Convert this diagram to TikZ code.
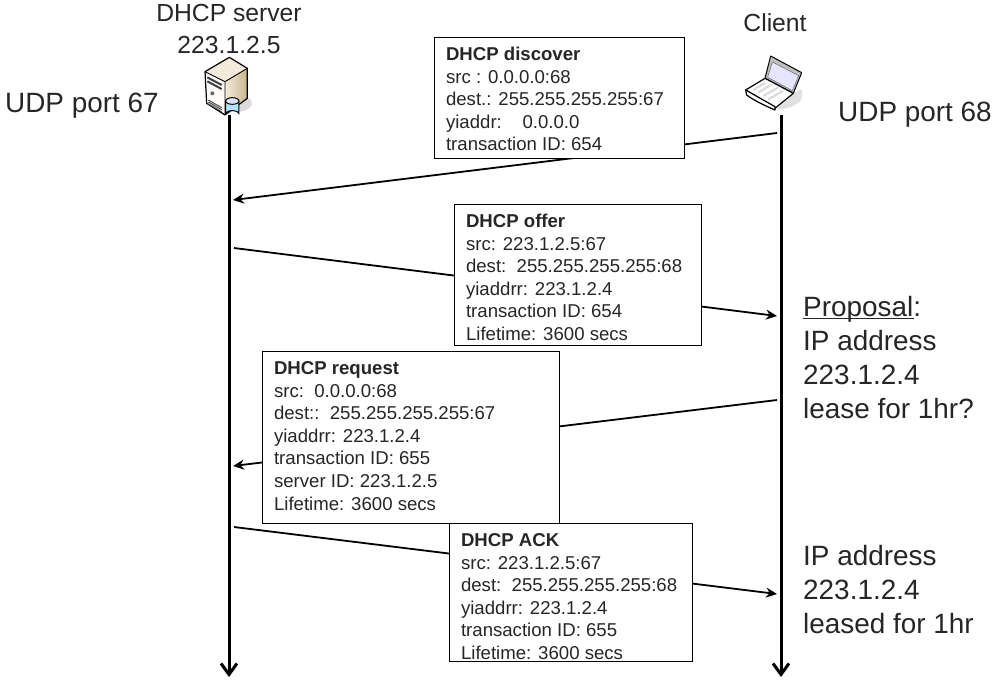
\documentclass[tikz,border=0pt]{standalone}
\usepackage{fontspec}
\setmainfont{Liberation Sans}
\usetikzlibrary{arrows.meta}
\definecolor{txt}{HTML}{262626}
\definecolor{beige}{HTML}{F3EBD9}
\definecolor{tan}{HTML}{C9B48F}
\tikzset{
  life/.style={line width=3pt,-{Straight Barb[length=11pt,width=16pt,line width=3pt]}},
  msg/.style={line width=1.8pt,-{Stealth[length=11pt,width=10pt]}},
  msgbox/.style={draw=black,line width=1.1pt,fill=white,anchor=north west,inner sep=0pt,minimum height=0pt,text=txt,font=\fontsize{18.6}{22.6}\selectfont,align=left},
  big/.style={text=txt,font=\fontsize{27.9}{34}\selectfont,align=left,inner sep=0pt},
  mid/.style={text=txt,font=\fontsize{24.7}{32}\selectfont,align=center,inner sep=0pt},
}
\newcommand{\boxbody}[3]{\parbox[t][#2pt][t]{#1pt}{\rule{0pt}{23pt}#3}}
\begin{document}
\begin{tikzpicture}[x=1pt,y=-1pt]
\useasboundingbox (0,0) rectangle (1000,680);
% server icon
\node[minimum width=54pt,minimum height=64pt,inner sep=0pt] (server) at (228,85) {};
\begin{scope}[shift={(190,40)},x=0.3333pt,y=-0.3333pt,line join=round]
  \fill[black!14] (150,215) .. controls (190,210) and (195,180) .. (170,172) -- (120,190) -- cycle;
  \fill[beige] (45,95) -- (118,52) -- (172,85) -- (105,125) -- cycle;
  \fill[white!90!beige] (45,95) -- (105,125) -- (105,225) -- (50,190) -- cycle;
  \shade[left color=beige,right color=tan] (105,125) -- (172,85) -- (172,175) -- (105,225) -- cycle;
  \draw[line width=1.2pt] (45,95) -- (118,52) -- (172,85) -- (172,175) -- (105,225) -- (50,190) -- cycle;
  \draw[line width=0.9pt] (45,95) -- (105,125) -- (172,85) (105,125) -- (105,225);
  \draw[line width=2pt,black!75] (52,112) -- (95,135) (52,124) -- (95,147);
  \fill[black!60] (67,160) circle (6);
  \draw[line width=1pt,black!70] (55,180) -- (95,203) (55,186) -- (95,209) (55,192) -- (95,215);
  \fill[blue!35!cyan!30!white,draw=black,line width=1pt] (107,183) -- (107,222) arc (180:360:20 and 10) -- (147,183) -- cycle;
  \fill[blue!12!white,draw=black,line width=1pt] (127,183) ellipse (20 and 10);
\end{scope}
% client icon
\node[minimum width=60pt,minimum height=58pt,inner sep=0pt] (client) at (775,86) {};
\begin{scope}[shift={(730,40)},x=0.3333pt,y=-0.3333pt,line join=round]
  \fill[black!12] (140,208) .. controls (190,205) and (225,190) .. (215,148) -- (190,160) -- cycle;
  \fill[black!25,draw=black,line width=1pt] (122,48) -- (215,98) -- (190,160) -- (105,115) -- cycle;
  \fill[blue!10!white,draw=black!60,line width=0.5pt] (127,66) -- (206,107) -- (187,152) -- (113,112) -- cycle;
  \fill[white,draw=black,line width=1.2pt] (47,150) -- (105,115) -- (190,160) -- (135,205) -- cycle;
  \fill[white,draw=black,line width=1.2pt] (47,150) -- (135,200) -- (135,210) .. controls (100,195) and (70,180) .. (50,165) -- cycle;
  \draw[black!15,line width=2pt] (70,150) -- (105,128) (85,158) -- (125,133) (100,168) -- (145,142) (115,178) -- (160,152);
\end{scope}
% labels
\node[mid] (title) at (229,28.5) {DHCP server\\223.1.2.5};
\node[mid] (ctitle) at (775,23) {Client};
\node[big,anchor=west] (p67) at (5,106) {UDP port 67};
\node[big,anchor=west] (p68) at (838,115) {UDP port 68};
% lifelines
\coordinate (sb) at (229,677);
\coordinate (cb) at (781,677);
\coordinate (st) at (229,115);
\coordinate (ct) at (781,115);
\draw[life] (st) -- (sb);
\draw[life] (ct) -- (cb);
% message ends
\coordinate (m1a) at (777,133); \coordinate (m1b) at (233,200);
\coordinate (m2a) at (234,248); \coordinate (m2b) at (777,316);
\coordinate (m3a) at (777,400); \coordinate (m3b) at (233,466);
\coordinate (m4a) at (234,527); \coordinate (m4b) at (777,594);
\draw[msg] (m1a) -- (m1b);
\draw[msg] (m2a) -- (m2b);
\draw[msg] (m3a) -- (m3b);
\draw[msg] (m4a) -- (m4b);
% boxes
\node[msgbox] (discover) at (434,37) {\hspace*{11.5pt}\boxbody{238.5}{121}{\textbf{DHCP discover}\\src : 0.0.0.0:68\\dest.: 255.255.255.255:67\\yiaddr:\ \ \ \ 0.0.0.0\\transaction ID: 654}};
\node[msgbox] (offer) at (454,204) {\hspace*{11.5pt}\boxbody{235.5}{141}{\textbf{DHCP offer}\\src: 223.1.2.5:67\\dest:\ \ 255.255.255.255:68\\yiaddrr: 223.1.2.4\\transaction ID: 654\\Lifetime: 3600 secs}};
\node[msgbox] (request) at (262,351) {\hspace*{11.5pt}\boxbody{285.5}{172}{\textbf{DHCP request}\\src:\ \ 0.0.0.0:68\\dest::\ \ 255.255.255.255:67\\yiaddrr: 223.1.2.4\\transaction ID: 655\\server ID: 223.1.2.5\\Lifetime: 3600 secs}};
\node[msgbox] (ack) at (449,523) {\hspace*{11.5pt}\boxbody{231.5}{138}{\textbf{DHCP ACK}\\src: 223.1.2.5:67\\dest:\ \ 255.255.255.255:68\\yiaddrr: 223.1.2.4\\transaction ID: 655\\Lifetime: 3600 secs}};
% notes
\node[big,anchor=north west] (proposal) at (803,296) {\rlap{\rule[-3pt]{111pt}{1.4pt}}Proposal:\\IP address\\223.1.2.4\\lease for 1hr?};
\node[big,anchor=north west] (leased) at (803,545) {IP address\\223.1.2.4\\leased for 1hr};
\end{tikzpicture}
\end{document}
